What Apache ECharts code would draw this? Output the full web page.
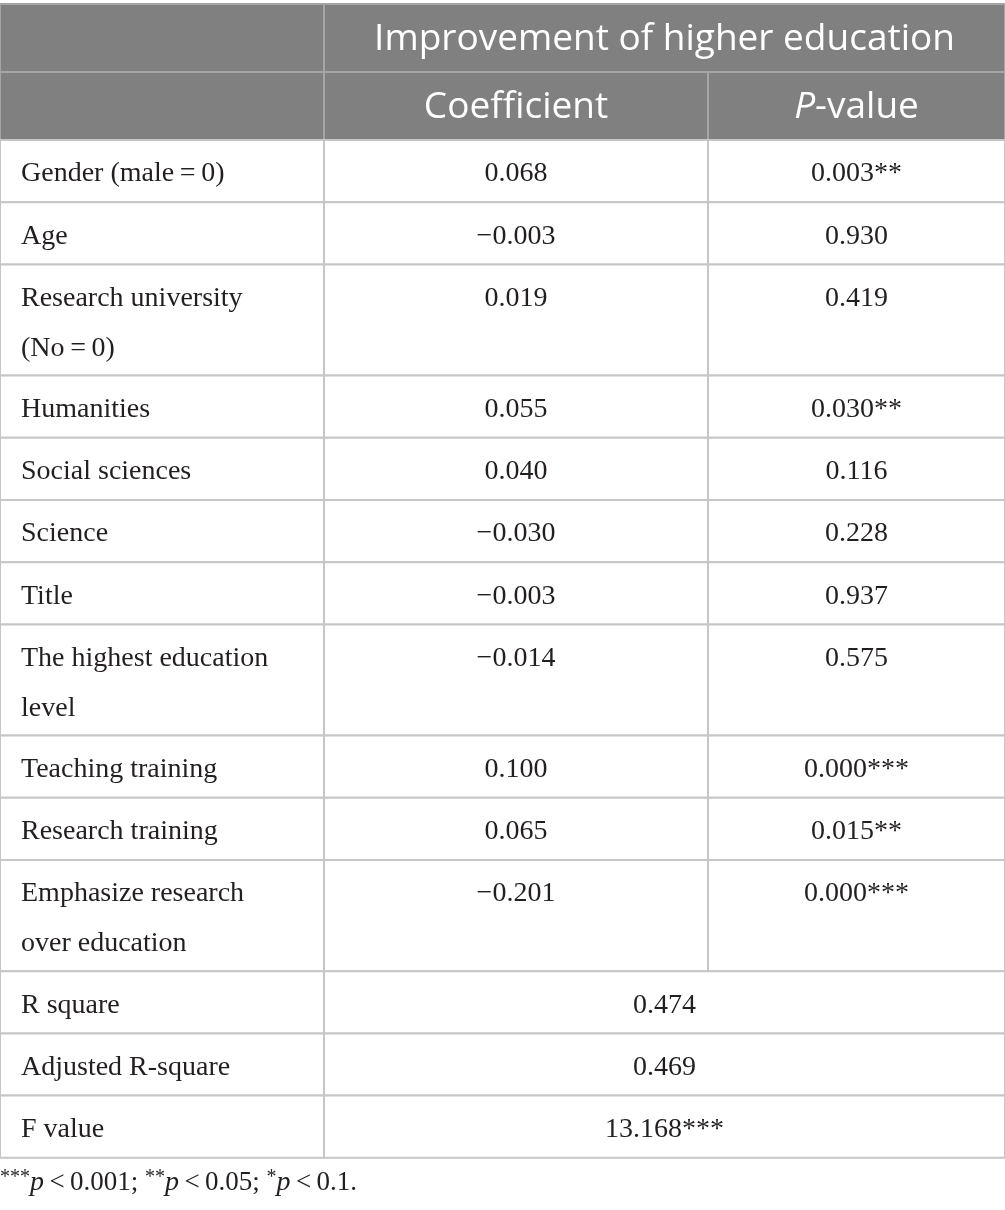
<!DOCTYPE html>
<html>
<head>
<meta charset="utf-8">
<script src="https://cdn.jsdelivr.net/npm/echarts@6/dist/echarts.min.js"></script>
<style>
  html, body { margin: 0; padding: 0; background: #fff; }
  #main { width: 1005px; height: 1210px; }
</style>
</head>
<body>
<div id="main"></div>
<script>
// table content
var headTitle = 'Improvement of higher education';
var headCols = ['Coefficient', '{i|P}-value'];
var variables = ['Gender (male\u2009=\u20090)', 'Age', 'Research university\n(No\u2009=\u20090)', 'Humanities',
  'Social sciences', 'Science', 'Title', 'The highest education\nlevel', 'Teaching training',
  'Research training', 'Emphasize research\nover education'];
var coefficients = ['0.068', '\u22120.003', '0.019', '0.055', '0.040', '\u22120.030', '\u22120.003',
  '\u22120.014', '0.100', '0.065', '\u22120.201'];
var pValues = ['0.003**', '0.930', '0.419', '0.030**', '0.116', '0.228', '0.937', '0.575',
  '0.000***', '0.015**', '0.000***'];
var fitStats = ['R square', 'Adjusted R-square', 'F value'];
var fitValues = ['0.474', '0.469', '13.168***'];
var footnote = '{s|***}{i|p}{n|\u2009<\u20090.001; }{s|**}{i|p}{n|\u2009<\u20090.05; }{s|*}{i|p}{n|\u2009<\u20090.1.}';

var colEdges = [0, 324, 708, 1005];
var HEAD_H = 68, LINE1_H = 62.2, LINE_STEP = 49;

// build row layout
var rows = [];
rows.push({ head: true, h: HEAD_H, cells: [
  { c0: 0, c1: 1, text: '' },
  { c0: 1, c1: 3, text: headTitle }
]});
rows.push({ head: true, h: HEAD_H, cells: [
  { c0: 0, c1: 1, text: '' },
  { c0: 1, c1: 2, text: headCols[0] },
  { c0: 2, c1: 3, text: headCols[1] }
]});
variables.forEach(function (v, i) {
  var n = v.split('\n').length;
  rows.push({ h: LINE1_H + (n - 1) * LINE_STEP, cells: [
    { c0: 0, c1: 1, text: v, left: true },
    { c0: 1, c1: 2, text: coefficients[i] },
    { c0: 2, c1: 3, text: pValues[i] }
  ]});
});
fitStats.forEach(function (v, i) {
  rows.push({ h: LINE1_H, cells: [
    { c0: 0, c1: 1, text: v, left: true },
    { c0: 1, c1: 3, text: fitValues[i] }
  ]});
});

var y = 4;
var rowData = rows.map(function (r, i) {
  var d = [i, y, y + r.h];
  y += r.h;
  return d;
});

function renderRow(params, api) {
  var r = rows[api.value(0)];
  var yTop = api.coord([0, api.value(1)])[1];
  var yBot = api.coord([0, api.value(2)])[1];
  var children = [];
  r.cells.forEach(function (c) {
    var x0 = api.coord([colEdges[c.c0], 0])[0];
    var x1 = api.coord([colEdges[c.c1], 0])[0];
    children.push({
      type: 'rect',
      shape: { x: x0, y: yTop, width: x1 - x0, height: yBot - yTop },
      style: { fill: r.head ? '#808080' : '#fff', stroke: r.head ? '#a5a5a5' : '#c6c6c6', lineWidth: 2 }
    });
    if (!c.text) return;
    if (r.head) {
      children.push({
        type: 'text',
        z2: 10,
        style: {
          text: c.text, x: (x0 + x1) / 2, y: (yTop + yBot) / 2 + 1,
          fill: '#fff', font: '37px "Open Sans"',
          align: 'center', verticalAlign: 'middle',
          textAlign: 'center', textVerticalAlign: 'middle',
          rich: { i: { fontStyle: 'italic', fontSize: 37, fontFamily: 'Open Sans', fill: '#fff', color: '#fff' } }
        }
      });
    } else {
      children.push({
        type: 'text',
        z2: 10,
        style: {
          text: c.text, x: c.left ? x0 + 21 : (x0 + x1) / 2, y: yTop + 9,
          fill: '#231f20', font: '28px "Liberation Serif"', lineHeight: 50,
          align: c.left ? 'left' : 'center', verticalAlign: 'top',
          textAlign: c.left ? 'left' : 'center', textVerticalAlign: 'top'
        }
      });
    }
  });
  return { type: 'group', children: children };
}

var chart = echarts.init(document.getElementById('main'));
chart.setOption({
  animation: false,
  backgroundColor: '#fff',
  title: {
    text: footnote,
    left: 0,
    top: 1168,
    padding: 0,
    textStyle: {
      fontFamily: 'Liberation Serif', fontSize: 27, fontWeight: 'normal', color: '#231f20',
      rich: {
        s: { fontFamily: 'Liberation Serif', fontSize: 20, color: '#231f20', verticalAlign: 'top', lineHeight: 30 },
        i: { fontFamily: 'Liberation Serif', fontSize: 28, fontStyle: 'italic', color: '#231f20', lineHeight: 30 },
        n: { fontFamily: 'Liberation Serif', fontSize: 27, color: '#231f20', lineHeight: 30 }
      }
    }
  },
  grid: { left: 0, right: 0, top: 0, bottom: 0 },
  xAxis: { type: 'value', min: 0, max: 1005, show: false },
  yAxis: { type: 'value', min: 0, max: 1210, inverse: true, show: false },
  series: [{
    type: 'custom',
    clip: false,
    silent: true,
    data: rowData,
    renderItem: renderRow
  }]
});
</script>
</body>
</html>
